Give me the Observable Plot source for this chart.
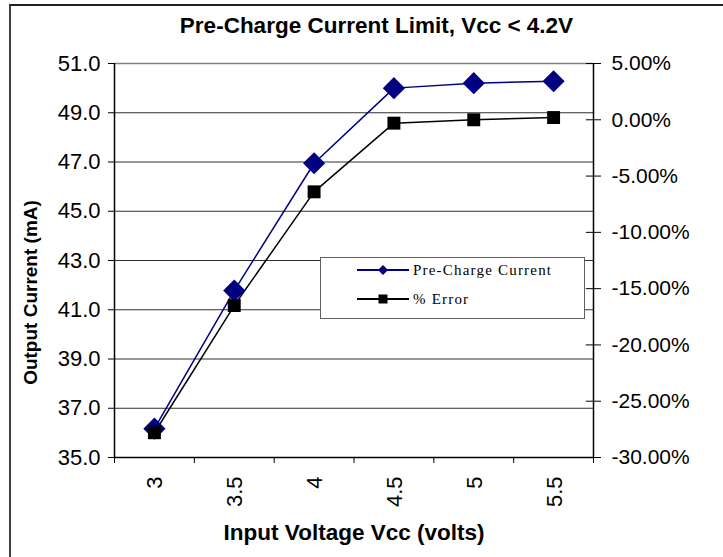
<!DOCTYPE html>
<html>
<head>
<meta charset="utf-8">
<script src="https://cdn.jsdelivr.net/npm/d3@7"></script>
<script src="https://cdn.jsdelivr.net/npm/@observablehq/plot@0.6"></script>
<style>
  html, body { margin: 0; padding: 0; background: #fff; }
  #wrap { position: relative; width: 723px; height: 557px; overflow: hidden; }
  #border { position: absolute; left: 9px; top: 4px; width: 730px; height: 600px;
            border-left: 2px solid #404040; border-top: 2px solid #202020; box-sizing: border-box; }
  #title { position: absolute; left: 0; width: 753px; top: 13px; text-align: center;
           font: bold 22.5px "Liberation Sans", Arial, sans-serif; }
  #legend { position: absolute; left: 320px; top: 257px; width: 265px; height: 62px;
            border: 1px solid #606060; box-sizing: border-box; background: #fff;
            font: 15px "Liberation Serif", serif; letter-spacing: 1.2px; }
  .li { position: absolute; left: 36px; height: 16px; display: flex; align-items: center; }
  .li svg { margin-right: 4px; }
</style>
</head>
<body>
<div id="wrap">
  <div id="chart"></div>
  <div id="border"></div>
  <div id="title">Pre-Charge Current Limit, Vcc &lt; 4.2V</div>
  <div id="legend"></div>
</div>
<script>
// ---- data ----
const voltages = ["3", "3.5", "4", "4.5", "5", "5.5"];
const currentMA = [36.17, 41.78, 46.95, 50.0, 50.2, 50.28];
const errorPct = [-27.8, -16.5, -6.4, -0.3, 0.0, 0.2];
const leftTicks = [35, 37, 39, 41, 43, 45, 47, 49, 51];
const rightTicks = [5, 0, -5, -10, -15, -20, -25, -30];
const seriesNames = ["Pre-Charge Current", "% Error"];
const seriesColors = ["#000080", "#000000"];

// ---- scales helpers ----
const yMin = 35, yMax = 51, pMin = -30, pMax = 5;
const pctToY = p => yMin + (p - pMin) * (yMax - yMin) / (pMax - pMin);

const rows = voltages.map((v, i) => ({
  v, i, xc: i + 0.5, cur: currentMA[i], err: errorPct[i], errY: pctToY(errorPct[i])
}));
const bandEdges = d3.range(voltages.length + 1);
const nBands = voltages.length;

const font = '"Liberation Sans", Arial, sans-serif';

const plot = Plot.plot({
  width: 723,
  height: 557,
  marginLeft: 114,
  marginRight: 130,
  marginTop: 63,
  marginBottom: 100,
  style: { fontFamily: font, fontSize: "22px", background: "transparent", overflow: "visible" },
  x: { type: "linear", domain: [0, nBands], axis: null },
  y: { type: "linear", domain: [yMin, yMax], axis: null },
  marks: [
    // gridlines
    Plot.gridY(leftTicks.slice(0, -1), { stroke: "#303030", strokeOpacity: 1, strokeWidth: 1 }),
    Plot.ruleY([yMax], { stroke: "#808080", strokeWidth: 1.5 }),
    // axis lines
    Plot.ruleX([0], { stroke: "#000", strokeWidth: 1.5 }),
    Plot.ruleX([nBands], { stroke: "#000", strokeWidth: 1.5 }),
    Plot.ruleY([yMin], { stroke: "#000", strokeWidth: 1.5 }),
    // left axis
    Plot.axisY({ anchor: "left", ticks: leftTicks, tickFormat: d => d.toFixed(1), tickSize: 6, tickPadding: 8,
                 label: null, fontSize: 22, stroke: "#000" }),
    // right axis (percent mapped to left scale)
    Plot.axisY({ anchor: "right", ticks: rightTicks.map(pctToY),
                 tickFormat: (d, k) => rightTicks[k].toFixed(2) + "%", tickSize: 7, tickPadding: 11,
                 label: null, fontSize: 21, stroke: "#000" }),
    // inner half of the crossing right-axis ticks
    Plot.ruleY(rightTicks.map(pctToY), { x1: nBands - 0.09, x2: nBands, stroke: "#000" }),
    // x axis ticks at band edges
    Plot.axisX({ ticks: bandEdges, tickFormat: () => "", tickSize: 6, label: null, stroke: "#000" }),
    // x tick labels rotated
    Plot.text(rows, { x: "xc", frameAnchor: "bottom", text: "v", rotate: -90, textAnchor: "end",
                      dy: 19, dx: 8, fontSize: 22, fill: "#000" }),
    // series lines
    Plot.line(rows, { x: "xc", y: "cur", stroke: seriesColors[0], strokeWidth: 1.5 }),
    Plot.line(rows, { x: "xc", y: "errY", stroke: seriesColors[1], strokeWidth: 1.5 }),
    // markers
    Plot.dot(rows, { x: "xc", y: "cur", symbol: "diamond2", r: 10, fill: seriesColors[0], stroke: "none" }),
    Plot.dot(rows, { x: "xc", y: "errY", symbol: "square", r: 7.3, fill: seriesColors[1], stroke: "none" }),
    // axis titles
    Plot.text(["Output Current (mA)"], { frameAnchor: "left", textAnchor: "middle", dx: -84, dy: 32, rotate: -90,
                      fontWeight: "bold", fontSize: 19, fill: "#000", text: d => d }),
    Plot.text(["Input Voltage Vcc (volts)"], { frameAnchor: "bottom", dy: 82, fontWeight: "bold",
                      fontSize: 22.5, fill: "#000", text: d => d })
  ]
});
document.getElementById("chart").appendChild(plot);

// legend
const legend = d3.select("#legend");
seriesNames.forEach((name, k) => {
  const item = legend.append("div").attr("class", "li").style("top", (k === 0 ? 4 : 33) + "px");
  const s = item.append("svg").attr("width", 52).attr("height", 16);
  s.append("line").attr("x1", 0).attr("x2", 52).attr("y1", 8).attr("y2", 8)
    .attr("stroke", seriesColors[k]).attr("stroke-width", 2);
  if (k === 0) {
    s.append("path").attr("d", "M26,3L31,8L26,13L21,8Z").attr("fill", seriesColors[k]);
  } else {
    s.append("rect").attr("x", 21.5).attr("y", 3.5).attr("width", 9).attr("height", 9).attr("fill", seriesColors[k]);
  }
  item.append("span").text(name);
});
</script>
</body>
</html>
